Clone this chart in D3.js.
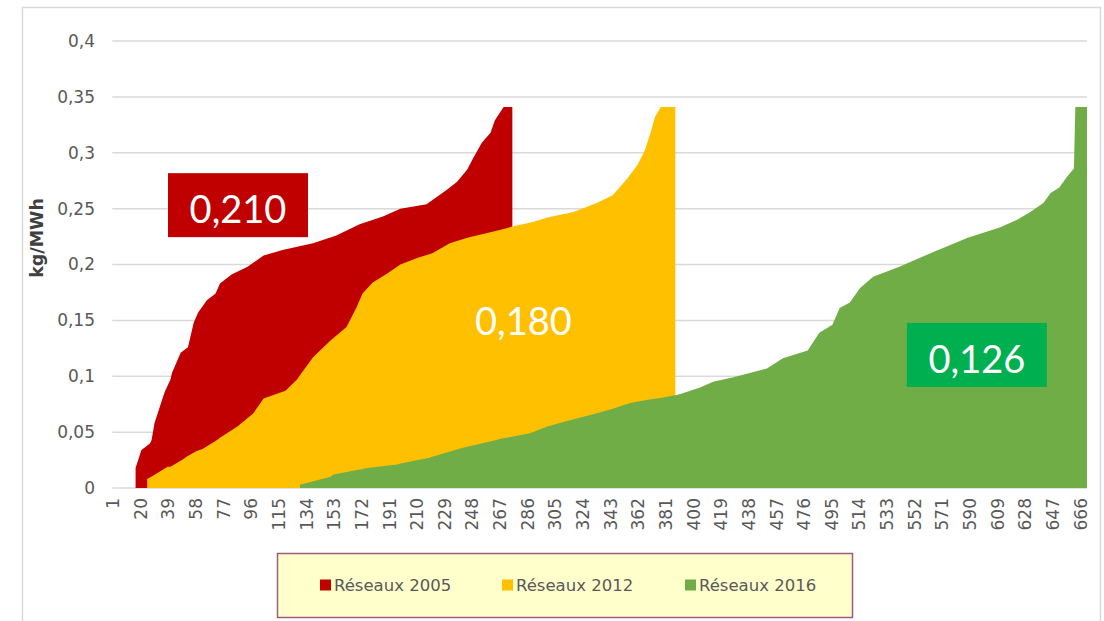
<!DOCTYPE html>
<html>
<head>
<meta charset="utf-8">
<script src="https://cdn.jsdelivr.net/npm/d3@7"></script>
<style>
  body { margin: 0; background: #fff; }
</style>
</head>
<body>
<div id="container"></div>
<script>
/* CONSTANTS AND GLOBALS */
const width = 1104,
      height = 621,
      margin = { top: 41, bottom: 133, left: 112.3, right: 17 };

/* DATA (rank where a value starts, value in kg/MWh) */
const nCategories = 670;
const xTickLabels = [1, 20, 39, 58, 77, 96, 115, 134, 153, 172, 191, 210, 229, 248, 267, 286, 305, 324,
  343, 362, 381, 400, 419, 438, 457, 476, 495, 514, 533, 552, 571, 590, 609, 628, 647, 666];
const yTicks = [0, 0.05, 0.1, 0.15, 0.2, 0.25, 0.3, 0.35, 0.4];
const yTickLabels = ["0", "0,05", "0,1", "0,15", "0,2", "0,25", "0,3", "0,35", "0,4"];

const seriesNames = ["Réseaux 2005", "Réseaux 2012", "Réseaux 2016"];
const seriesColors = ["#C00000", "#FFC000", "#70AD47"];

const ranks2005 = [17, 21, 24, 27, 28, 30, 34, 37, 41, 42, 48, 53, 57, 60, 66, 72, 75, 83, 94, 105, 118, 139,
  155, 171, 187, 199, 217, 231, 238, 245, 249, 255, 261, 264, 270, 276];
const values2005 = [0.018, 0.034, 0.037, 0.040, 0.043, 0.058, 0.074, 0.086, 0.097, 0.103, 0.121, 0.126, 0.148,
  0.157, 0.168, 0.174, 0.183, 0.191, 0.198, 0.208, 0.213, 0.219, 0.226, 0.236, 0.243, 0.250, 0.254, 0.267,
  0.274, 0.285, 0.295, 0.309, 0.318, 0.329, 0.341, 0.341];

const ranks2012 = [25, 29, 39, 41, 50, 52, 59, 63, 73, 75, 87, 98, 105, 120, 128, 130, 139, 151, 162, 169, 173,
  180, 190, 199, 211, 221, 233, 245, 268, 276, 290, 300, 318, 334, 345, 355, 362, 367, 371, 374, 378, 388];
const values2012 = [0.008, 0.011, 0.019, 0.019, 0.026, 0.028, 0.033, 0.035, 0.043, 0.045, 0.055, 0.067, 0.080,
  0.087, 0.097, 0.101, 0.117, 0.132, 0.144, 0.162, 0.174, 0.184, 0.192, 0.200, 0.206, 0.210, 0.219, 0.224,
  0.231, 0.234, 0.238, 0.242, 0.247, 0.255, 0.262, 0.277, 0.289, 0.302, 0.318, 0.332, 0.341, 0.341];

const ranks2016 = [130, 151, 153, 173, 176, 197, 199, 219, 221, 242, 245, 265, 268, 288, 300, 311, 334, 345, 357,
  369, 380, 391, 405, 414, 428, 451, 462, 479, 487, 496, 501, 508, 515, 524, 542, 565, 589, 611, 623, 632,
  641, 646, 652, 657, 662, 663, 671];
const values2016 = [0.003, 0.010, 0.012, 0.017, 0.018, 0.021, 0.022, 0.027, 0.028, 0.036, 0.037, 0.043, 0.044,
  0.049, 0.055, 0.059, 0.067, 0.071, 0.076, 0.079, 0.081, 0.084, 0.090, 0.095, 0.099, 0.107, 0.116, 0.123,
  0.139, 0.146, 0.161, 0.166, 0.179, 0.189, 0.198, 0.211, 0.224, 0.233, 0.240, 0.247, 0.255, 0.264, 0.269,
  0.278, 0.286, 0.341, 0.341];

// average labels put on the chart
const avgTexts = ["0,210", "0,180", "0,126"];
const avgRanks = [87.4, 283.6, 595.3];
const avgValues = [0.237, 0.137, 0.103];
const avgBoxes = ["#C00000", null, "#00B050"];

const series = [
  d3.zip(ranks2005, values2005),
  d3.zip(ranks2012, values2012),
  d3.zip(ranks2016, values2016)
];

/* SCALES */
const xScale = d3.scaleLinear()
  .domain([1, nCategories + 1])
  .range([margin.left, width - margin.right]);

const yScale = d3.scaleLinear()
  .domain([0, 0.4])
  .range([height - margin.bottom, margin.top]);

/* SVG SETUP */
const svg = d3.select("#container").append("svg")
  .attr("width", width)
  .attr("height", height)
  .style("font-family", "'DejaVu Sans', sans-serif");

// chart frame
svg.append("rect")
  .attr("x", 22.5).attr("y", 7.5)
  .attr("width", 1078).attr("height", 640)
  .attr("fill", "#fff")
  .attr("stroke", "#D9D9D9")
  .attr("stroke-width", 1.5);

/* GRIDLINES AND Y LABELS */
svg.append("g")
  .selectAll("line")
  .data(yTicks)
  .join("line")
    .attr("x1", margin.left)
    .attr("x2", width - margin.right)
    .attr("y1", d => yScale(d))
    .attr("y2", d => yScale(d))
    .attr("stroke", "#D9D9D9")
    .attr("stroke-width", 1.5);

svg.append("g")
  .selectAll("text")
  .data(yTicks)
  .join("text")
    .attr("x", 95)
    .attr("y", d => yScale(d))
    .attr("dy", "0.35em")
    .attr("text-anchor", "end")
    .attr("fill", "#595959")
    .style("font-size", "17px")
    .text((d, i) => yTickLabels[i]);

svg.append("text")
  .attr("transform", `translate(43,${238}) rotate(-90)`)
  .attr("text-anchor", "middle")
  .attr("fill", "#404040")
  .style("font-size", "17.5px")
  .style("font-weight", "bold")
  .text("kg/MWh");

/* AREAS */
const area = d3.area()
  .x(d => xScale(d[0]))
  .y0(yScale(0))
  .y1(d => yScale(d[1]));

svg.append("g")
  .selectAll("path")
  .data(series)
  .join("path")
    .attr("d", area)
    .attr("fill", (d, i) => seriesColors[i]);

/* X AXIS LABELS */
svg.append("g")
  .selectAll("text")
  .data(xTickLabels)
  .join("text")
    .attr("transform", d => `translate(${xScale(d + 0.5)},498) rotate(-90)`)
    .attr("dy", "0.36em")
    .attr("text-anchor", "end")
    .attr("fill", "#595959")
    .style("font-size", "17px")
    .text(d => d);

/* AVERAGE LABELS */
const avg = svg.append("g")
  .selectAll("g")
  .data(avgTexts)
  .join("g")
    .attr("transform", (d, i) => `translate(${xScale(avgRanks[i])},${yScale(avgValues[i])})`);

avg.filter((d, i) => avgBoxes[i])
  .append("rect")
    .attr("x", -70).attr("y", -50)
    .attr("width", 140).attr("height", 64)
    .attr("fill", d => avgBoxes[avgTexts.indexOf(d)]);

avg.append("text")
  .attr("text-anchor", "middle")
  .attr("fill", "#fff")
  .style("font-family", "Lato, sans-serif")
  .style("font-size", "38px")
  .text(d => d);

/* LEGEND */
const legend = svg.append("g");
legend.append("rect")
  .attr("x", 277.5).attr("y", 553.5)
  .attr("width", 575).attr("height", 64)
  .attr("fill", "#FFFFCC")
  .attr("stroke", "#A05A80")
  .attr("stroke-width", 1.5);

const legendX = [320, 502, 685];
const item = legend.selectAll("g")
  .data(seriesNames)
  .join("g")
    .attr("transform", (d, i) => `translate(${legendX[i]},585)`);

item.append("rect")
  .attr("x", 0).attr("y", -5.5)
  .attr("width", 11).attr("height", 11)
  .attr("fill", (d, i) => seriesColors[i]);

item.append("text")
  .attr("x", 14)
  .attr("dy", "0.36em")
  .attr("fill", "#595959")
  .style("font-size", "16.5px")
  .text(d => d);
</script>
</body>
</html>
